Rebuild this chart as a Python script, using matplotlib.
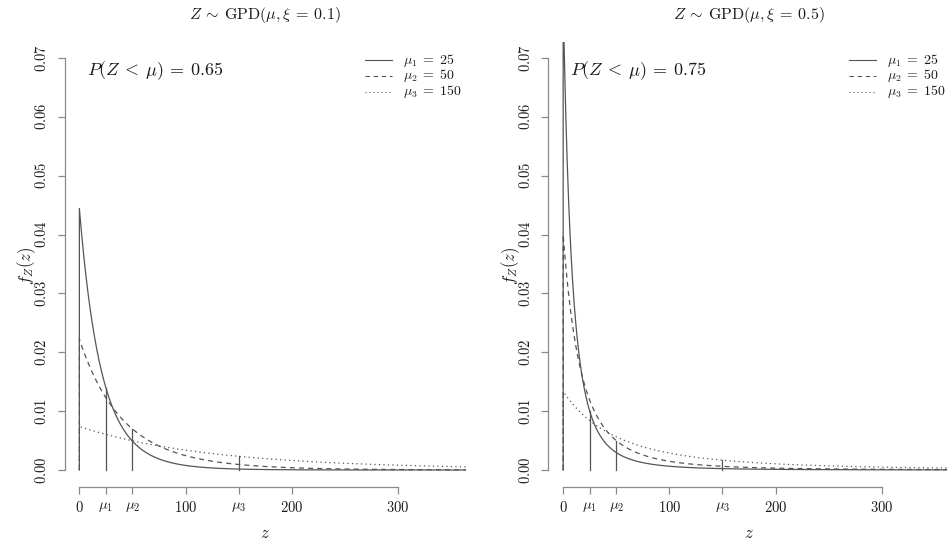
import numpy as np
import matplotlib
matplotlib.use("Agg")
import matplotlib.pyplot as plt
from matplotlib.lines import Line2D

plt.rcParams['mathtext.fontset'] = 'cm'
plt.rcParams['font.family'] = 'serif'

# parameters of the two panels
xis = [0.1, 0.5]
mus = [25, 50, 150]
probs = ['0.65', '0.75']
styles = ['-', (0, (4, 3.3)), (0, (1, 2.6))]
mu_labels = [r'$\mu_1\;=\;25$', r'$\mu_2\;=\;50$', r'$\mu_3\;=\;150$']

xtick_pos = [0, 25, 50, 100, 150, 200, 300]
xtick_lab = [r'$0$', r'$\mu_1$', r'$\mu_2$', r'$100$', r'$\mu_3$', r'$200$', r'$300$']
ytick_pos = [0.00, 0.01, 0.02, 0.03, 0.04, 0.05, 0.06, 0.07]

curve_col = '#555555'
axis_col = '#8a8a8a'
text_col = '#1a1a1a'


def gpd_pdf(z, mu, xi):
    sigma = mu * (1 - xi)
    return (1 / sigma) * (1 + xi * z / sigma) ** (-1 / xi - 1)


W, H = 947, 542
fig = plt.figure(figsize=(W / 100, H / 100), dpi=100)

lefts = [64.5, 548.3]
z = np.linspace(0, 364, 2000)


def px(x, y):
    # figure pixels (from top-left) to figure fraction
    return x / W, 1 - y / H


for k, xi in enumerate(xis):
    ax = fig.add_axes([lefts[k] / W, (H - 486.5) / H, 401.5 / W, 445 / H])
    ax.set_xlim(-14, 364)
    ax.set_ylim(-0.0028, 0.0728)

    for mu, ls in zip(mus, styles):
        zz = np.concatenate([[0], z])
        fz = np.concatenate([[0], gpd_pdf(z, mu, xi)])
        ax.plot(zz, fz, color=curve_col, lw=0.9, linestyle=ls)
        # vertical line at the mean
        ax.plot([mu, mu], [0, gpd_pdf(mu, mu, xi)], color=curve_col, lw=0.9)

    for s in ['top', 'right']:
        ax.spines[s].set_visible(False)
    for s in ['bottom', 'left']:
        ax.spines[s].set_color(axis_col)
        ax.spines[s].set_linewidth(0.9)
    ax.spines['bottom'].set_bounds(0, 300)
    ax.spines['left'].set_bounds(0, 0.07)

    ax.set_xticks(xtick_pos)
    ax.set_xticklabels(xtick_lab)
    ax.set_yticks(ytick_pos)
    ax.set_yticklabels([r'$%.2f$' % v for v in ytick_pos], rotation=90, va='center')
    ax.tick_params(axis='both', direction='out', length=5, width=0.9,
                   color=axis_col, labelcolor=text_col, labelsize=10.5)
    ax.tick_params(axis='x', pad=5)
    ax.tick_params(axis='y', pad=6)

    x0 = lefts[k]
    fig.text(*px(x0 + 200.5, 15), r'$Z\:\sim\:\mathrm{GPD}(\mu, \xi\:=\:%s)$' % xi,
             fontsize=11.5, color=text_col, ha='center', va='center')
    fig.text(*px(x0 + 200.5, 534), r'$z$', fontsize=12, color=text_col,
             ha='center', va='center')
    fig.text(*px(x0 - 37.5, 266), r'$f_Z(z)$', fontsize=12, color=text_col,
             ha='center', va='center', rotation=90)

    ax.text(0.055, 0.934, r'$P(Z\:<\:\mu)\:=\:%s$' % probs[k], transform=ax.transAxes,
            fontsize=13, color=text_col, va='center', ha='left')

    # legend drawn by hand at fixed pixel rows
    lx = x0 + 300.5
    for j, (ls, lab) in enumerate(zip(styles, mu_labels)):
        yy = 60 + 16 * j
        (xa, ya), (xb, _) = px(lx, yy), px(lx + 27, yy)
        fig.add_artist(Line2D([xa, xb], [ya, ya], color=curve_col, lw=0.8,
                              linestyle=ls))
        fig.text(*px(lx + 38, yy), lab, fontsize=10, color=text_col,
                 ha='left', va='center')

fig.savefig('out.png', dpi=100)
